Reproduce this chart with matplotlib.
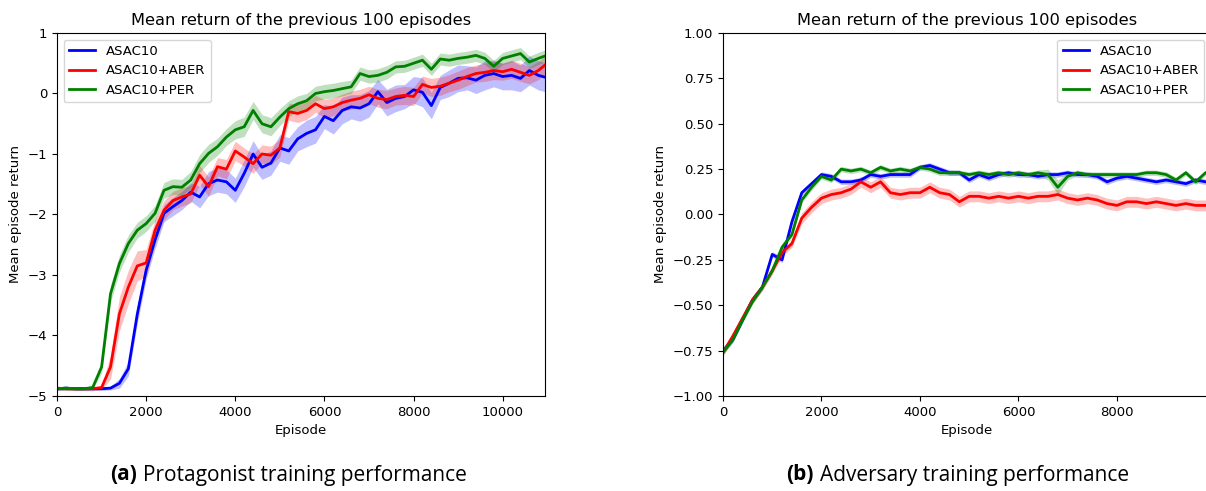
import matplotlib.pyplot as plt
import numpy as np

# Protagonist runs (left panel), sampled every 200 episodes
ep_prot = np.append(np.arange(0, 10801, 200), 10950)

prot_asac = [-4.88, -4.87, -4.88, -4.88, -4.88, -4.88, -4.87, -4.79, -4.55, -3.65,
             -2.92, -2.42, -1.98, -1.87, -1.77, -1.63, -1.71, -1.49, -1.43, -1.46,
             -1.60, -1.32, -1.00, -1.22, -1.15, -0.90, -0.95, -0.75, -0.66, -0.60,
             -0.38, -0.45, -0.28, -0.22, -0.24, -0.17, 0.03, -0.15, -0.08, -0.05,
             0.06, 0.02, -0.20, 0.10, 0.17, 0.25, 0.26, 0.22, 0.30, 0.33,
             0.28, 0.30, 0.25, 0.38, 0.30, 0.27]
prot_aber = [-4.87, -4.88, -4.88, -4.88, -4.88, -4.86, -4.52, -3.64, -3.20, -2.85,
             -2.80, -2.26, -1.93, -1.77, -1.71, -1.66, -1.35, -1.54, -1.21, -1.25,
             -0.95, -1.05, -1.16, -1.00, -1.02, -0.90, -0.30, -0.33, -0.28, -0.17,
             -0.25, -0.22, -0.15, -0.11, -0.08, -0.02, -0.08, -0.10, -0.05, -0.03,
             -0.05, 0.15, 0.10, 0.12, 0.17, 0.22, 0.28, 0.33, 0.35, 0.38,
             0.36, 0.40, 0.35, 0.30, 0.38, 0.47]
prot_per = [-4.88, -4.87, -4.88, -4.88, -4.86, -4.52, -3.31, -2.81, -2.48, -2.26,
            -2.15, -1.98, -1.60, -1.54, -1.55, -1.43, -1.16, -0.99, -0.88, -0.72,
            -0.60, -0.55, -0.28, -0.50, -0.55, -0.39, -0.25, -0.17, -0.12, 0.00,
            0.03, 0.05, 0.08, 0.11, 0.33, 0.28, 0.30, 0.35, 0.44, 0.45,
            0.50, 0.55, 0.40, 0.57, 0.55, 0.58, 0.60, 0.63, 0.58, 0.45,
            0.58, 0.62, 0.66, 0.52, 0.58, 0.62]

prot_asac_sd = [0.03] * 7 + [0.08, 0.12, 0.15, 0.15, 0.14, 0.14, 0.15, 0.15, 0.15,
                             0.18, 0.20, 0.20, 0.20, 0.20, 0.22, 0.22, 0.20, 0.20, 0.22,
                             0.22, 0.20, 0.22, 0.22, 0.20, 0.22, 0.22, 0.20, 0.22, 0.22,
                             0.20, 0.22, 0.22, 0.20, 0.22, 0.24, 0.22, 0.20, 0.22, 0.22,
                             0.20, 0.22, 0.24, 0.22, 0.22, 0.24, 0.22, 0.24, 0.24, 0.24]
prot_aber_sd = [0.03] * 6 + [0.20, 0.28, 0.28, 0.25, 0.22, 0.18, 0.16, 0.15, 0.15,
                             0.15, 0.16, 0.16, 0.15, 0.16, 0.16, 0.15, 0.16, 0.15, 0.15,
                             0.15, 0.14, 0.15, 0.15, 0.14, 0.15, 0.15, 0.14, 0.15, 0.15,
                             0.14, 0.15, 0.15, 0.14, 0.15, 0.15, 0.14, 0.15, 0.15, 0.14,
                             0.15, 0.15, 0.14, 0.15, 0.15, 0.14, 0.15, 0.15, 0.14, 0.15, 0.15]
prot_per_sd = [0.03] * 5 + [0.10, 0.14, 0.14, 0.14, 0.13, 0.13, 0.13, 0.13, 0.13, 0.13,
                            0.14, 0.15, 0.15, 0.14, 0.14, 0.15, 0.16, 0.15, 0.15, 0.15,
                            0.14, 0.13, 0.13, 0.12, 0.12, 0.12, 0.12, 0.12, 0.11, 0.11,
                            0.11, 0.11, 0.11, 0.10, 0.10, 0.10, 0.10, 0.10, 0.10, 0.10,
                            0.10, 0.10, 0.10, 0.10, 0.10, 0.10, 0.10, 0.10, 0.10, 0.10, 0.10]

# Adversary runs (right panel), sampled every 200 episodes
ep_adv = np.arange(0, 10001, 200)

adv_asac = [-0.75, -0.69, -0.58, -0.47, -0.40, -0.22, -0.25, -0.04, 0.12, 0.17,
            0.22, 0.21, 0.18, 0.18, 0.19, 0.22, 0.21, 0.22, 0.22, 0.22,
            0.26, 0.27, 0.25, 0.23, 0.23, 0.19, 0.22, 0.20, 0.22, 0.23,
            0.22, 0.22, 0.21, 0.22, 0.22, 0.23, 0.22, 0.22, 0.21, 0.18,
            0.20, 0.21, 0.20, 0.19, 0.18, 0.19, 0.18, 0.17, 0.19, 0.18, 0.18]
adv_aber = [-0.76, -0.67, -0.57, -0.47, -0.40, -0.31, -0.21, -0.16, -0.02, 0.04,
            0.09, 0.11, 0.12, 0.14, 0.18, 0.15, 0.18, 0.12, 0.11, 0.12,
            0.12, 0.15, 0.12, 0.11, 0.07, 0.10, 0.10, 0.09, 0.10, 0.09,
            0.10, 0.09, 0.10, 0.10, 0.11, 0.09, 0.08, 0.09, 0.08, 0.06,
            0.05, 0.07, 0.07, 0.06, 0.07, 0.06, 0.05, 0.06, 0.05, 0.05, 0.05]
adv_per = [-0.76, -0.69, -0.58, -0.48, -0.40, -0.31, -0.18, -0.11, 0.08, 0.15,
           0.21, 0.19, 0.25, 0.24, 0.25, 0.23, 0.26, 0.24, 0.25, 0.24,
           0.26, 0.25, 0.23, 0.23, 0.23, 0.22, 0.23, 0.22, 0.23, 0.22,
           0.23, 0.22, 0.23, 0.22, 0.15, 0.21, 0.23, 0.22, 0.22, 0.22,
           0.22, 0.22, 0.22, 0.23, 0.23, 0.22, 0.19, 0.23, 0.18, 0.23, 0.24]

adv_asac_sd = [0.015] * 51
adv_aber_sd = [0.02] * 8 + [0.03] * 43
adv_per_sd = [0.015] * 33 + [0.03, 0.04, 0.02] + [0.015] * 15

labels = ['ASAC10', 'ASAC10+ABER', 'ASAC10+PER']
colors = ['blue', 'red', 'green']


def draw_panel(ax, ep, means, sds):
    for m, s, lab, c in zip(means, sds, labels, colors):
        m = np.asarray(m)
        s = np.asarray(s)
        ax.fill_between(ep, m - s, m + s, color=c, alpha=0.25, linewidth=0)
        ax.plot(ep, m, color=c, linewidth=2, label=lab)
    ax.set_title('Mean return of the previous 100 episodes', fontsize=11.7)
    ax.set_xlabel('Episode', fontsize=9.5)
    ax.set_ylabel('Mean episode return', fontsize=9.5)
    ax.tick_params(labelsize=9.5)


fig = plt.figure(figsize=(12.06, 4.91), dpi=100)
ax1 = fig.add_axes([0.0473, 0.1935, 0.4046, 0.7393])
ax2 = fig.add_axes([0.5995, 0.1935, 0.4046, 0.7393])

draw_panel(ax1, ep_prot, [prot_asac, prot_aber, prot_per],
           [prot_asac_sd, prot_aber_sd, prot_per_sd])
ax1.set_xlim(0, 10950)
ax1.set_ylim(-5, 1)
ax1.legend(loc='upper left', fontsize=9.5)

draw_panel(ax2, ep_adv, [adv_asac, adv_aber, adv_per],
           [adv_asac_sd, adv_aber_sd, adv_per_sd])
ax2.set_xlim(0, 9910)
ax2.set_ylim(-1, 1)
ax2.set_yticks(np.arange(-1, 1.01, 0.25))
ax2.legend(loc='upper right', fontsize=9.5)

# sub-figure captions
cap_y = 1 - 475 / 491
cap = dict(va='center', fontsize=15, family='Open Sans')
fig.text(137 / 1206, cap_y, '(a)', ha='right', fontweight='bold', **cap)
fig.text(143 / 1206, cap_y, 'Protagonist training performance', ha='left', **cap)
fig.text(814 / 1206, cap_y, '(b)', ha='right', fontweight='bold', **cap)
fig.text(820 / 1206, cap_y, 'Adversary training performance', ha='left', **cap)

fig.savefig('out.png', dpi=100)
